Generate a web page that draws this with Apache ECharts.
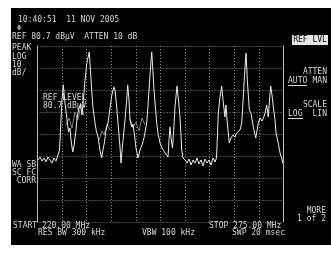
<!DOCTYPE html>
<html>
<head>
<meta charset="utf-8">
<script src="https://cdn.jsdelivr.net/npm/echarts@6/dist/echarts.min.js"></script>
<style>
  html, body { margin: 0; padding: 0; background: #fff; }
  #wrap { position: relative; width: 331px; height: 253px; overflow: hidden; }
  #screen { position: absolute; left: 11px; top: 8px; width: 320px; height: 237px; background: #000; }
  #chart { position: absolute; left: 0; top: 0; width: 331px; height: 253px; }
</style>
</head>
<body>
<div id="wrap">
  <div id="screen"></div>
  <div id="chart"></div>
</div>
<script>
// analyzer settings
var REF_LEVEL = 80.7;      // dBuV, top of screen
var START_MHZ = 220;
var STOP_MHZ = 275;

// main trace (MHz / dBuV)
var traceFreq = [
  220.1, 220.56, 221.0, 221.45, 221.9, 222.35, 222.8, 223.24, 223.69, 224.14, 224.58,
  224.92, 225.25, 225.48, 225.77, 226.15, 226.6, 226.93, 227.27, 227.49, 227.87, 228.16,
  228.61, 228.83, 229.28, 229.61, 229.95, 230.17, 230.62, 231.07, 231.58, 232.12, 232.41,
  232.86, 233.19, 233.53, 233.97, 234.35, 234.64, 234.98, 235.32, 235.76, 236.21, 236.66,
  237.1, 237.33, 237.66, 238.0, 238.45, 238.67, 239.12, 239.57, 239.94, 240.17, 240.46,
  240.68, 241.06, 241.35, 241.69, 242.02, 242.47, 242.92, 243.36, 243.81, 244.42, 244.71,
  244.93, 245.26, 245.53, 245.82, 246.05, 246.38, 246.65, 246.94, 247.39, 247.84, 248.51,
  249.18, 249.4, 249.62, 249.85, 250.18, 250.52, 250.74, 251.19, 251.52, 251.86, 252.08,
  252.24, 252.53, 252.98, 253.43, 253.87, 254.32, 254.77, 255.21, 255.66, 256.11, 256.56,
  257.0, 257.45, 257.9, 258.34, 258.79, 259.24, 259.69, 260.02, 260.24, 260.42, 260.8,
  261.18, 261.54, 261.92, 262.14, 262.44, 262.88, 263.26, 263.71, 264.16, 264.54, 264.83,
  265.28, 265.65, 266.01, 266.33, 266.62, 266.91, 267.36, 267.73, 268.25, 268.79, 269.37,
  269.75, 270.19, 270.53, 270.86, 271.25, 271.6, 271.87, 272.14, 272.43, 272.72, 273.1,
  273.32, 273.84, 274.22, 274.55, 274.82
];
var traceLevel = [
  28.9, 30.2, 28.4, 29.8, 28.0, 30.2, 28.9, 27.5, 29.8, 28.4, 29.3,
  33.4, 47.1, 56.1, 63.0, 54.8, 47.1, 41.6, 43.4, 38.0, 32.5, 35.2,
  42.5, 48.0, 52.5, 54.3, 49.3, 53.9, 65.2, 73.4, 78.0, 60.7, 52.5,
  45.7, 41.6, 39.3, 33.4, 29.8, 33.4, 37.1, 42.5, 45.7, 52.5, 58.9,
  62.1, 60.7, 53.9, 45.7, 34.8, 27.5, 38.0, 47.1, 56.1, 63.0, 56.1,
  47.1, 43.9, 45.2, 40.2, 34.3, 29.8, 33.4, 35.7, 38.9, 45.7, 53.9,
  60.7, 70.7, 78.0, 68.9, 60.7, 52.5, 45.7, 41.1, 36.6, 34.3, 32.1,
  30.2, 38.0, 43.9, 38.9, 34.3, 44.8, 53.0, 62.5, 56.1, 48.4, 40.2,
  33.4, 29.8, 28.9, 27.5, 29.3, 26.6, 28.9, 27.5, 29.8, 27.1, 28.9,
  26.2, 29.3, 27.5, 28.9, 26.6, 29.8, 28.0, 29.8, 40.2, 50.2, 57.5,
  62.5, 54.8, 48.4, 53.9, 45.7, 36.6, 38.9, 40.2, 39.3, 41.1, 42.0,
  42.5, 45.7, 57.5, 68.9, 77.5, 65.2, 51.6, 50.2, 43.9, 38.9, 45.7,
  48.0, 46.6, 48.0, 50.2, 53.9, 48.4, 56.1, 62.5, 58.4, 53.0, 47.1,
  41.1, 36.6, 32.1, 30.2, 27.5
];

// faint second sweep showing through in the busy parts (null = gap)
var ghostFreq = [226.37, 227.04, 227.71, 228.38, 229.05, 229.73, 230.4, null,
  233.75, 234.42, 234.87, 235.54, 236.21, null,
  240.68, 241.35, 242.02, 242.69, 243.36, 244.03];
var ghostLevel = [44.8, 48.0, 43.4, 50.7, 47.1, 54.3, 49.3, null,
  38.0, 42.0, 40.2, 45.2, 42.5, null,
  48.0, 43.4, 46.1, 42.0, 48.0, 44.8];

function toPairs(fs, ls) {
  var out = [];
  for (var i = 0; i < fs.length; i++) {
    if (fs[i] === null) { out.push([null, '-']); continue; }
    out.push([fs[i], +(ls[i] - REF_LEVEL).toFixed(2)]);
  }
  return out;
}

var FONT = 'DejaVu Sans Mono';
var TXT = '#d6d6d6';

function txt(x, y, s, opt) {
  opt = opt || {};
  return {
    type: 'text', x: x, y: y, z: 10,
    style: {
      text: s, fill: opt.fill || TXT, font: (opt.size || 8) + 'px "' + FONT + '"',
      align: opt.align || 'left', verticalAlign: 'middle'
    }
  };
}

var myChart = echarts.init(document.getElementById('chart'), null, { renderer: 'canvas' });

var option = {
  backgroundColor: 'transparent',
  animation: false,
  grid: { left: 37.5, top: 46, width: 246, height: 176 },
  xAxis: {
    type: 'value', min: START_MHZ, max: STOP_MHZ, interval: 5.5,
    axisLine: { show: false }, axisTick: { show: false }, axisLabel: { show: false },
    splitLine: { show: true, lineStyle: { color: '#8c8c8c', width: 1, type: [1, 2] } }
  },
  yAxis: [{
    type: 'value', min: -80, max: 0, interval: 10,
    axisLine: { show: true, lineStyle: { color: '#bdbdbd', width: 1 } },
    axisTick: { show: false }, axisLabel: { show: false },
    splitLine: { show: true, lineStyle: { color: '#8c8c8c', width: 1, type: [1, 2] } }
  }, {
    type: 'value', min: -80, max: 0, interval: 10, position: 'right',
    axisLine: { show: true, lineStyle: { color: '#bdbdbd', width: 1 } },
    axisTick: { show: false }, axisLabel: { show: false }, splitLine: { show: false }
  }],
  series: [{
    name: 'ghost', type: 'line', data: toPairs(ghostFreq, ghostLevel),
    showSymbol: false, connectNulls: false,
    lineStyle: { color: '#7c7c7c', width: 1 }
  }, {
    name: 'trace', type: 'line', data: toPairs(traceFreq, traceLevel),
    showSymbol: false,
    lineStyle: { color: '#ececec', width: 1 }
  }],
  graphic: [
    txt(18, 20, '10:40:51  11 NOV 2005'),
    txt(17, 28, 'Φ', { size: 7 }),
    txt(12, 37, 'REF 80.7 dBµV  ATTEN 10 dB'),
    txt(12, 48, 'PEAK'),
    txt(12, 57, 'LOG'),
    txt(12, 65, '10'),
    txt(12, 73, 'dB/'),
    txt(43, 98, 'REF LEVEL'),
    txt(43, 106, '80.7 dBµV'),
    txt(12, 165, 'WA SB'),
    txt(12, 173, 'SC FC'),
    txt(36, 181, 'CORR', { align: 'right' }),
    { type: 'rect', z: 9, shape: { x: 292, y: 35, width: 36, height: 10 }, style: { fill: '#e6e6e6' } },
    txt(310, 40, 'REF LVL', { fill: '#000', align: 'center' }),
    txt(327, 72, 'ATTEN', { align: 'right' }),
    txt(288, 81, 'AUTO'),
    txt(327, 81, 'MAN', { align: 'right' }),
    { type: 'rect', z: 10, shape: { x: 288, y: 85, width: 19, height: 1 }, style: { fill: TXT } },
    txt(327, 105, 'SCALE', { align: 'right' }),
    txt(288, 114, 'LOG'),
    txt(327, 114, 'LIN', { align: 'right' }),
    { type: 'rect', z: 10, shape: { x: 288, y: 118, width: 15, height: 1 }, style: { fill: TXT } },
    txt(326, 211, 'MORE', { align: 'right' }),
    txt(326, 219, '1 of 2', { align: 'right' }),
    txt(13, 226, 'START 220.00 MHz'),
    txt(209, 226, 'STOP 275.00 MHz'),
    txt(38, 233, 'RES BW 300 kHz'),
    txt(142, 233, 'VBW 100 kHz'),
    txt(232, 233, 'SWP 20 msec')
  ]
};

myChart.setOption(option);
</script>
</body>
</html>
